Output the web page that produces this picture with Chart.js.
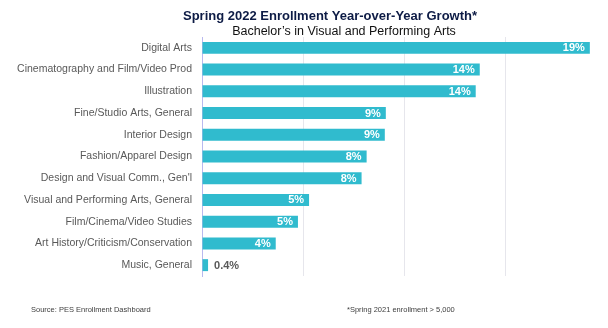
<!DOCTYPE html>
<html>
<head>
<meta charset="utf-8">
<script src="https://cdn.jsdelivr.net/npm/chart.js@4/dist/chart.umd.min.js"></script>
<style>
  html, body { margin: 0; padding: 0; background: #fff; }
  #wrap { width: 608px; height: 328px; }
</style>
</head>
<body>
<div id="wrap"><canvas id="growthChart" width="608" height="328"></canvas></div>
<script>
'use strict';

// Programas (categorias) y crecimiento interanual en %
const programs = [
    'Digital Arts',
    'Cinematography and Film/Video Prod',
    'Illustration',
    'Fine/Studio Arts, General',
    'Interior Design',
    'Fashion/Apparel Design',
    "Design and Visual Comm., Gen'l",
    'Visual and Performing Arts, General',
    'Film/Cinema/Video Studies',
    'Art History/Criticism/Conservation',
    'Music, General'
];
const growth = [19.2, 13.75, 13.55, 9.1, 9.05, 8.15, 7.9, 5.3, 4.75, 3.65, 0.3];
const growthLabels = ['19%', '14%', '14%', '9%', '9%', '8%', '8%', '5%', '5%', '4%', '0.4%'];
const axisTicks = [0, 5, 10, 15, 20];

const titleText = 'Spring 2022 Enrollment Year-over-Year Growth*';
const subtitleText = 'Bachelor\u2019s in Visual and Performing Arts';
const sourceText = 'Source: PES Enrollment Dashboard';
const noteText = '*Spring 2021 enrollment > 5,000';

const FONT = "'Liberation Sans', Arial, sans-serif";
const BAR_COLOR = '#30bbce';

// Etiquetas de valor al final de cada barra
const valueLabelPlugin = {
    id: 'valueLabels',
    afterDatasetsDraw(chart) {
        const ctx = chart.ctx;
        const meta = chart.getDatasetMeta(0);
        ctx.save();
        ctx.font = 'bold 11px ' + FONT;
        ctx.textBaseline = 'middle';
        meta.data.forEach((bar, i) => {
            if (growth[i] > 2) {
                ctx.fillStyle = '#ffffff';
                ctx.textAlign = 'right';
                ctx.fillText(growthLabels[i], bar.x - 5, bar.y + 0.5);
            } else {
                ctx.fillStyle = '#595959';
                ctx.textAlign = 'left';
                ctx.fillText(growthLabels[i], bar.x + 6, bar.y + 0.5);
            }
        });
        ctx.restore();
    }
};

// Titulo, subtitulo y notas al pie
const textPlugin = {
    id: 'pageText',
    afterDraw(chart) {
        const ctx = chart.ctx;
        ctx.save();
        ctx.textBaseline = 'alphabetic';
        ctx.textAlign = 'center';
        ctx.fillStyle = '#0d1b45';
        ctx.font = 'bold 13px ' + FONT;
        ctx.fillText(titleText, 330, 19.5);
        ctx.fillStyle = '#111111';
        ctx.font = '12.5px ' + FONT;
        ctx.fillText(subtitleText, 344, 34.5);

        ctx.textAlign = 'left';
        ctx.fillStyle = '#404040';
        ctx.font = '7.5px ' + FONT;
        ctx.fillText(sourceText, 31, 312);
        ctx.fillText(noteText, 347, 312);
        ctx.restore();
    }
};

new Chart(document.getElementById('growthChart'), {
    type: 'bar',
    data: {
        labels: programs,
        datasets: [{
            data: growth,
            backgroundColor: BAR_COLOR,
            borderWidth: 0,
            categoryPercentage: 1,
            barPercentage: 0.55
        }]
    },
    options: {
        indexAxis: 'y',
        responsive: false,
        animation: false,
        layout: {
            padding: { top: 37, bottom: 52, left: 0, right: 2 }
        },
        scales: {
            x: {
                min: axisTicks[0],
                max: axisTicks[axisTicks.length - 1],
                afterBuildTicks: scale => {
                    scale.ticks = axisTicks.map(v => ({ value: v }));
                },
                afterFit: scale => { scale.height = 0; },
                ticks: { display: false },
                border: { display: false },
                grid: {
                    drawTicks: false,
                    color: c => (c.tick && c.tick.value > 0 && c.tick.value < 20) ? '#e6e6ec' : 'rgba(0,0,0,0)',
                    lineWidth: 1
                }
            },
            y: {
                afterFit: scale => { scale.width = 202; },
                grid: { display: false, drawTicks: false },
                border: { display: true, color: '#b9b9ef', width: 1 },
                ticks: {
                    color: '#595959',
                    padding: 10,
                    autoSkip: false,
                    font: { size: 10.5, family: FONT }
                }
            }
        },
        plugins: {
            legend: { display: false },
            tooltip: { enabled: false }
        }
    },
    plugins: [valueLabelPlugin, textPlugin]
});
</script>
</body>
</html>
